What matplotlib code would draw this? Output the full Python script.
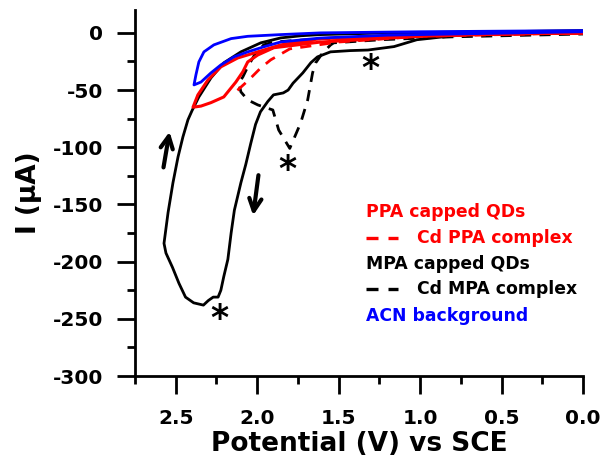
import matplotlib.pyplot as plt
from matplotlib.ticker import MultipleLocator

plt.rcParams['font.family'] = ['DejaVu Sans']
plt.rcParams['font.weight'] = 'bold'
plt.rcParams['axes.unicode_minus'] = False

# MPA capped QDs (black solid), one full sweep
mpa_v = [0.0, 0.61, 0.86, 1.02, 1.16, 1.32, 1.43, 1.55, 1.63, 1.67, 1.72, 1.78, 1.81, 1.84,
         1.90, 1.935, 1.98, 2.01, 2.04, 2.07, 2.10, 2.14, 2.16, 2.18, 2.205, 2.223, 2.24,
         2.27, 2.30, 2.33, 2.39, 2.44, 2.48, 2.52, 2.56, 2.572, 2.547, 2.517, 2.486, 2.456,
         2.425, 2.40, 2.358, 2.284, 2.205, 2.10, 1.978, 1.855, 1.73, 1.61, 1.2, 0.5, 0.0]
mpa_i = [1, 0, -3.5, -6, -12, -15, -15.5, -16.6, -21, -26, -35, -44, -50, -52.5,
         -54.2, -60, -69, -80, -97, -115, -131, -155, -175, -198, -213, -225, -231,
         -231, -234, -238, -236, -231, -219, -205, -192.5, -184, -157, -131, -108.5, -91,
         -76, -68, -56, -39.4, -26.2, -16.6, -8.7, -4.4, -2.5, -1.5, 0, 1, 2]

# Cd MPA complex (black dashed)
cdmpa_v = [0.0, 1.0, 1.6, 1.9, 1.96, 2.009, 2.058, 2.088, 2.113, 2.10, 2.058, 1.996, 1.904,
           1.868, 1.80, 1.733, 1.69, 1.66, 1.641, 1.598, 1.549, 1.53, 1.24, 0.81, 0.0]
cdmpa_i = [0, -2, -5, -8, -10.5, -17.5, -29.7, -38.5, -43.7, -51.6, -58.6, -63, -67.4,
           -84.9, -101, -78.7, -58.6, -35, -26.2, -17.5, -10.5, -8.7, -6, -3.5, -1]

# PPA capped QDs (red solid)
ppa_v = [0.0, 0.5, 1.0, 1.61, 1.898, 1.996, 2.058, 2.088, 2.131, 2.18, 2.205, 2.284, 2.345,
         2.394, 2.364, 2.302, 2.223, 2.119, 1.996, 1.855, 1.61, 1.0, 0.0]
ppa_i = [0, -1, -3, -8, -13, -19.3, -25.4, -34, -43, -51.6, -56, -61, -64,
         -65, -54.2, -41.1, -29.7, -21.9, -16.6, -10.5, -5, -2, 0]

# Cd PPA complex (red dashed)
cdppa_v = [0.0, 1.0, 1.5, 1.8, 1.917, 1.978, 2.051, 2.119, 2.143]
cdppa_i = [0, -3, -8, -14, -23.6, -30.6, -41.1, -49.9, -52.5]

# ACN background (blue)
acn_v = [0.0, 0.8, 1.2, 1.61, 1.855, 1.96, 2.058, 2.143, 2.223, 2.284, 2.345, 2.388,
         2.376, 2.358, 2.327, 2.266, 2.16, 2.058, 1.855, 1.61, 1.0, 0.0]
acn_i = [1, -1, -2, -4.5, -7.9, -12.2, -16.6, -21, -28, -35, -43, -45.5,
         -36.7, -25.4, -16.6, -10.5, -5, -3, -1.5, 0, 1, 2]

legend_rows = [("PPA capped QDs", "red", False), ("Cd PPA complex", "red", True),
               ("MPA capped QDs", "black", False), ("Cd MPA complex", "black", True),
               ("ACN background", "blue", False)]

fig = plt.figure(figsize=(6.12, 4.76), dpi=100)
ax = fig.add_axes([0.2206, 0.21, 0.732, 0.769])

dash = (0, (4, 3))
ax.plot(cdmpa_v, cdmpa_i, color='black', lw=2, linestyle=dash)
ax.plot(mpa_v, mpa_i, color='black', lw=2)
ax.plot(cdppa_v, cdppa_i, color='red', lw=2, linestyle=dash)
ax.plot(ppa_v, ppa_i, color='red', lw=2.2)
ax.plot(acn_v, acn_i, color='blue', lw=2)

ax.set_xlim(2.75, 0)
ax.set_ylim(-300, 20)
ax.xaxis.set_minor_locator(MultipleLocator(0.25))
ax.yaxis.set_major_locator(MultipleLocator(50))
ax.yaxis.set_minor_locator(MultipleLocator(25))
ax.set_xticks([2.5, 2.0, 1.5, 1.0, 0.5, 0.0])
ax.set_xticklabels(['2.5', '2.0', '1.5', '1.0', '0.5', '0.0'])

for s in ['top', 'right']:
    ax.spines[s].set_visible(False)
for s in ['left', 'bottom']:
    ax.spines[s].set_linewidth(2)
ax.tick_params(which='major', direction='out', length=13, width=2, labelsize=14.5)
ax.tick_params(axis='x', which='major', pad=11)
ax.tick_params(axis='y', which='major', pad=10)
ax.tick_params(which='minor', direction='out', length=6, width=2)
for lab in ax.get_xticklabels() + ax.get_yticklabels():
    lab.set_fontweight('bold')

ax.set_xlabel('Potential (V) vs SCE', fontsize=19, fontweight='bold', labelpad=2)
ax.set_ylabel('I (\u03bcA)', fontsize=19, fontweight='bold', labelpad=8)

# asterisks
for xv, yv in [(1.304, -25.4), (1.813, -113.7), (2.235, -244)]:
    ax.text(xv, yv - 6, '*', fontsize=25, fontweight='bold', ha='center', va='center')

# sweep arrows
arrow = dict(arrowstyle='->', lw=3, mutation_scale=22, color='black')
ax.annotate('', xy=(2.535, -84), xytext=(2.578, -120), arrowprops=arrow)
ax.annotate('', xy=(2.027, -162), xytext=(1.99, -122), arrowprops=arrow)

# legend text
row_y = [-156.5, -179.5, -202, -224, -247.5]
for (label, color, dashed), yv in zip(legend_rows, row_y):
    if dashed:
        for x0, x1 in [(1.335, 1.261), (1.200, 1.133)]:
            ax.plot([x0, x1], [yv, yv], color=color, lw=2.4, solid_capstyle='butt')
        ax.text(1.017, yv, label, color=color, fontsize=12.4,
                fontweight='bold', ha='left', va='center')
    else:
        ax.text(1.335, yv, label, color=color, fontsize=12.4, fontweight='bold',
                ha='left', va='center')

fig.savefig('out.png', dpi=100)
